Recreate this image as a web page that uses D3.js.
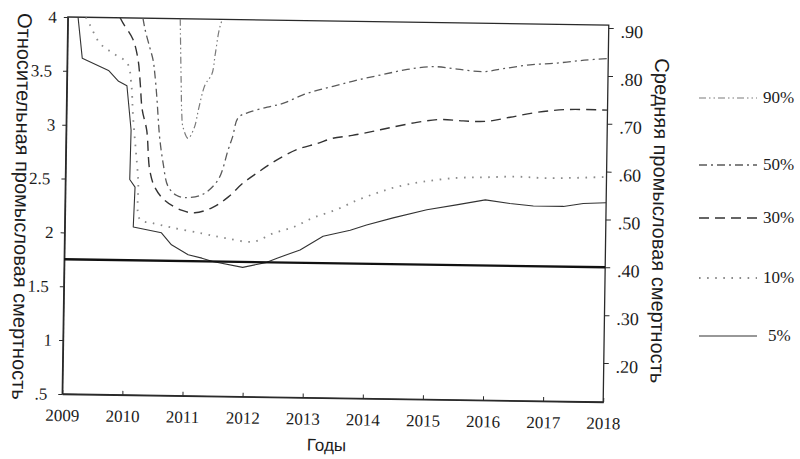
<!DOCTYPE html>
<html>
<head>
<meta charset="utf-8">
<script src="https://cdn.jsdelivr.net/npm/d3@7/dist/d3.min.js"></script>
<style>
  html, body { margin: 0; padding: 0; background: #fff; }
  svg { display: block; }
</style>
</head>
<body>
<svg id="chart" width="800" height="459"></svg>
<script>
// Years on the x axis
const yearTicks = [2009, 2010, 2011, 2012, 2013, 2014, 2015, 2016, 2017, 2018];
// Left axis: relative fishing mortality
const leftTicks = [0.5, 1, 1.5, 2, 2.5, 3, 3.5, 4];
// Right axis: mean fishing mortality
const rightTicks = [0.2, 0.3, 0.4, 0.5, 0.6, 0.7, 0.8, 0.9];
// Reference level of mean fishing mortality (right axis)
const refLevel = 0.40;

// Percentile trajectories: [year, relative F]
const p90 = [[2010.87, 4.00], [2010.90, 3.43], [2010.92, 3.11], [2010.94, 3.00], [2011.03, 2.89],
  [2011.13, 2.99], [2011.20, 3.17], [2011.30, 3.39], [2011.41, 3.49], [2011.46, 3.67],
  [2011.52, 3.90], [2011.57, 4.00]];
const p50 = [[2010.25, 4.00], [2010.29, 3.89], [2010.37, 3.73], [2010.43, 3.61], [2010.46, 3.49],
  [2010.50, 3.27], [2010.53, 3.06], [2010.56, 2.88], [2010.62, 2.66], [2010.71, 2.44],
  [2010.85, 2.36], [2010.99, 2.34], [2011.28, 2.37], [2011.54, 2.51], [2011.70, 2.79],
  [2011.77, 2.91], [2011.86, 3.09], [2012.03, 3.14], [2012.34, 3.19], [2012.61, 3.23],
  [2012.93, 3.31], [2013.21, 3.36], [2013.54, 3.41], [2013.87, 3.46], [2014.26, 3.51],
  [2014.66, 3.56], [2015.09, 3.59], [2015.49, 3.57], [2015.92, 3.55], [2016.25, 3.58],
  [2016.70, 3.62], [2017.15, 3.64], [2017.60, 3.67], [2018.00, 3.69]];
const p30 = [[2009.87, 4.00], [2009.92, 3.95], [2010.09, 3.80], [2010.18, 3.61], [2010.22, 3.40],
  [2010.26, 3.15], [2010.34, 2.96], [2010.40, 2.59], [2010.49, 2.43], [2010.66, 2.31],
  [2010.95, 2.22], [2011.16, 2.20], [2011.45, 2.25], [2011.71, 2.35], [2011.95, 2.48],
  [2012.19, 2.58], [2012.45, 2.68], [2012.84, 2.80], [2013.18, 2.86], [2013.43, 2.91],
  [2013.76, 2.94], [2014.10, 2.98], [2014.41, 3.02], [2014.83, 3.07], [2015.22, 3.10],
  [2015.60, 3.09], [2016.00, 3.09], [2016.38, 3.13], [2016.83, 3.18], [2017.33, 3.21],
  [2018.00, 3.21]];
const p10 = [[2009.30, 4.00], [2009.37, 3.93], [2009.54, 3.76], [2009.76, 3.67], [2010.00, 3.58],
  [2010.07, 3.40], [2010.11, 3.08], [2010.21, 2.50], [2010.25, 2.13], [2010.45, 2.10],
  [2010.78, 2.06], [2011.28, 2.01], [2011.67, 1.97], [2012.14, 1.94], [2012.47, 2.02],
  [2012.80, 2.08], [2013.13, 2.17], [2013.52, 2.25], [2013.86, 2.34], [2014.19, 2.41],
  [2014.52, 2.47], [2014.95, 2.52], [2015.51, 2.56], [2016.01, 2.57], [2016.51, 2.58],
  [2017.01, 2.57], [2018.00, 2.59]];
const p5 = [[2009.17, 4.00], [2009.25, 3.62], [2009.69, 3.51], [2009.86, 3.41], [2010.00, 3.37],
  [2010.08, 2.96], [2010.07, 2.50], [2010.16, 2.43], [2010.14, 2.06], [2010.61, 2.01],
  [2010.78, 1.90], [2011.06, 1.81], [2011.29, 1.78], [2011.47, 1.75], [2011.97, 1.70],
  [2012.37, 1.75], [2012.54, 1.79], [2012.92, 1.87], [2013.30, 2.00], [2013.75, 2.06],
  [2014.02, 2.11], [2014.46, 2.18], [2015.02, 2.26], [2015.51, 2.31], [2015.99, 2.36],
  [2016.40, 2.33], [2016.79, 2.31], [2017.29, 2.31], [2017.62, 2.34], [2018.00, 2.35]];

const seriesNames = ["90%", "50%", "30%", "10%", "5%"];
const seriesData = [p90, p50, p30, p10, p5];
const seriesStyle = [
  { dash: "7,3,1.5,3,1.5,3", color: "#7a7a7a", width: 1.2, curve: true },
  { dash: "8,4,2,4", color: "#5a5a5a", width: 1.3, curve: true },
  { dash: "10,6", color: "#333", width: 1.4, curve: true },
  { dash: "1.6,6.5", color: "#8a8a8a", width: 1.8, curve: true },
  { dash: null, color: "#333", width: 1.1, curve: false }
];

const SERIF = '"Liberation Serif", "DejaVu Serif", "Times New Roman", serif';
const SANS = '"Liberation Sans", Arial, "DejaVu Sans", sans-serif';
const INK = "#1c1c1c";

const svg = d3.select("#chart");
const plot = { left: 65, right: 606, top: 21, bottom: 398 };

// The whole drawing sits at a slight clockwise tilt
const root = svg.append("g").attr("transform", "rotate(0.85, 335, 210)");

const x = d3.scaleLinear().domain([2009, 2018]).range([plot.left, plot.right]);
const yL = d3.scaleLinear().domain([0.5, 4]).range([plot.bottom, plot.top]);
const yR = d3.scaleLinear().domain([0.2, 0.9]).range([359, 24]);

const noLeadZero = s => s.replace(/^0\./, ".");
const serifText = (sel, size) => sel
  .style("font-family", SERIF).style("font-size", size + "px").attr("fill", INK);

root.append("clipPath").attr("id", "plotClip")
  .append("rect")
  .attr("x", plot.left).attr("y", plot.top)
  .attr("width", plot.right - plot.left).attr("height", plot.bottom - plot.top);

// Frame
root.append("rect")
  .attr("x", plot.left).attr("y", plot.top)
  .attr("width", plot.right - plot.left).attr("height", plot.bottom - plot.top)
  .attr("fill", "none").attr("stroke", "#2a2a2a").attr("stroke-width", 1.3);

// Bottom axis
const xAxis = d3.axisBottom(x).tickValues(yearTicks).tickFormat(d3.format("d"))
  .tickSizeInner(-4).tickSizeOuter(0).tickPadding(15);
const gx = root.append("g").attr("transform", `translate(0,${plot.bottom})`).call(xAxis);
gx.select(".domain").attr("stroke", "#2a2a2a").attr("stroke-width", 1.3);
gx.selectAll(".tick line").attr("stroke", "#2a2a2a");
serifText(gx.selectAll("text"), 17);

// Left axis
const yAxisL = d3.axisLeft(yL).tickValues(leftTicks)
  .tickFormat(d => noLeadZero(String(d))).tickSizeInner(4).tickSizeOuter(0).tickPadding(7);
const gl = root.append("g").attr("transform", `translate(${plot.left},0)`).call(yAxisL);
gl.select(".domain").attr("stroke", "#2a2a2a").attr("stroke-width", 1.3);
gl.selectAll(".tick line").attr("stroke", "#2a2a2a");
serifText(gl.selectAll("text"), 17);
gl.selectAll(".tick text").attr("dx", d => (d % 1 ? -4 : 0));

// Right axis
const yAxisR = d3.axisRight(yR).tickValues(rightTicks)
  .tickFormat(d => noLeadZero(d3.format(".2f")(d))).tickSizeInner(5).tickSizeOuter(0).tickPadding(7);
const gr = root.append("g").attr("transform", `translate(${plot.right},0)`).call(yAxisR);
gr.select(".domain").remove();
gr.selectAll(".tick line").attr("stroke", "#2a2a2a");
serifText(gr.selectAll("text"), 18).attr("dy", "0.5em");

// Axis titles
root.append("text")
  .attr("transform", "translate(15,211) rotate(90)")
  .attr("text-anchor", "middle")
  .style("font-family", SANS).style("font-size", "20px").attr("fill", INK)
  .text("Относительная промысловая смертность");
root.append("text")
  .attr("transform", "translate(653,216) rotate(90)")
  .attr("text-anchor", "middle")
  .style("font-family", SANS).style("font-size", "20px").attr("fill", INK)
  .text("Средняя промысловая смертность");
root.append("text")
  .attr("x", 330).attr("y", 451)
  .attr("text-anchor", "middle")
  .style("font-family", SANS).style("font-size", "17px").attr("fill", INK)
  .text("Годы");

// Curves
const lines = root.append("g").attr("clip-path", "url(#plotClip)");
seriesData.forEach((data, i) => {
  const st = seriesStyle[i];
  const gen = d3.line().x(d => x(d[0])).y(d => yL(d[1]))
    .curve(st.curve ? d3.curveCatmullRom.alpha(0.5) : d3.curveLinear);
  lines.append("path").datum(data)
    .attr("d", gen)
    .attr("fill", "none")
    .attr("stroke", st.color)
    .attr("stroke-width", st.width)
    .attr("stroke-dasharray", st.dash)
    .attr("stroke-linejoin", "round");
});

// Reference level
root.append("line")
  .attr("x1", plot.left).attr("x2", plot.right)
  .attr("y1", yR(refLevel)).attr("y2", yR(refLevel))
  .attr("stroke", "#111").attr("stroke-width", 2.4);

// Legend
const legendY = [98, 165, 218, 278, 336];
const legend = svg.append("g");
seriesNames.forEach((name, i) => {
  const st = seriesStyle[i];
  legend.append("line")
    .attr("x1", 699).attr("x2", 757)
    .attr("y1", legendY[i]).attr("y2", legendY[i])
    .attr("stroke", st.color).attr("stroke-width", st.width)
    .attr("stroke-dasharray", st.dash);
  serifText(legend.append("text"), 17)
    .attr("x", i === 4 ? 768 : 763).attr("y", legendY[i] + 5)
    .text(name);
});
</script>
</body>
</html>
